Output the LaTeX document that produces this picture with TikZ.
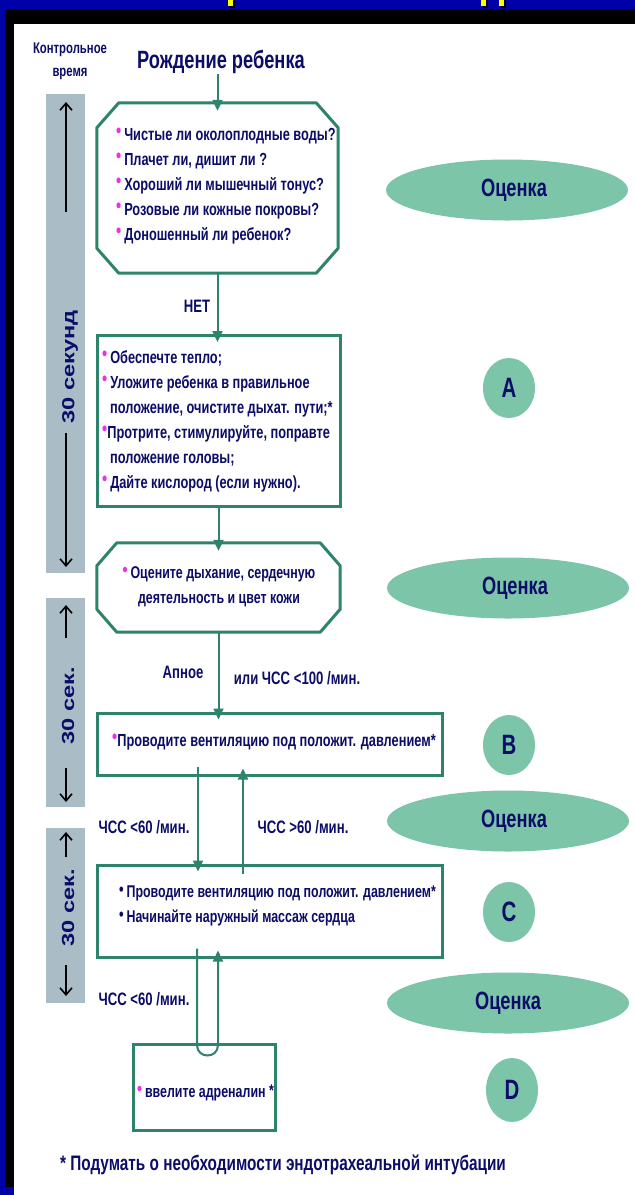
\documentclass[tikz,border=0pt]{standalone}
\usepackage{fontspec}
\setmainfont{Liberation Sans}[FakeStretch=0.73]
\newfontfamily\widefont{Liberation Sans}[FakeStretch=1.35]
\usetikzlibrary{arrows.meta,shapes.geometric,calc}
\definecolor{navy}{RGB}{12,12,105}
\definecolor{linecol}{RGB}{45,132,106}
\definecolor{ovalcol}{RGB}{124,197,168}
\definecolor{barcol}{RGB}{170,189,199}
\definecolor{bulcol}{RGB}{235,50,225}
\definecolor{frameblue}{RGB}{0,0,168}
\definecolor{ttlyellow}{RGB}{255,255,0}
\newcommand\tf{\fontsize{17.5}{25}\selectfont\bfseries}
\newcommand\tfs{\fontsize{17}{25}\selectfont\bfseries}
\newcommand\bl{\textcolor{bulcol}{\raisebox{0.25ex}{\scalebox{1.15}{•}}}}
\newcommand\bn{\textcolor{navy}{\raisebox{0.25ex}{\scalebox{1.05}{•}}}}
\tikzset{
  txt/.style={text=navy, font=\tf, inner sep=0pt},
  txts/.style={text=navy, font=\tfs, inner sep=0pt},
  lbl/.style={text=navy, font=\fontsize{18}{20}\selectfont\bfseries, inner sep=0pt},
  holder/.style={draw=none, inner sep=0pt, minimum width=#1},
  boxline/.style={draw=linecol, line width=3pt, line join=round},
  rectbox/.style={draw=linecol, line width=3pt, fill=white, inner sep=0pt},
  conn/.style={draw=linecol, line width=2pt, -{Triangle[width=10pt,length=11pt]}, shorten >=-8pt},
  oval/.style={ellipse, fill=ovalcol, inner sep=0pt, minimum width=242pt, minimum height=61pt, text=navy, font=\fontsize{25}{27}\selectfont\bfseries},
  letter/.style={ellipse, fill=ovalcol, inner sep=0pt, minimum width=52pt, minimum height=60pt, text=navy, font=\fontsize{28}{30}\selectfont\bfseries},
  bararrow/.style={draw=black, line width=1.6pt, -{Straight Barb[length=7pt,width=12pt,line width=1.6pt]}},
  bartext/.style={text=navy, font=\widefont\fontsize{17.5}{18}\selectfont\bfseries, inner sep=0pt},
}
\begin{document}
\begin{tikzpicture}[x=1pt,y=-1pt]
\useasboundingbox (0,0) rectangle (635,1195);
% frame
\fill[frameblue] (0,0) rectangle (635,1195);
\fill[black] (5,9) rectangle (635,1187);
\fill[white] (14,24) rectangle (635,1195);
% cut-off title glyph bits
\fill[black] (230,0) rectangle (235,8);
\fill[ttlyellow] (228,0) rectangle (233,6);
\fill[black] (483,0) rectangle (488,8);
\fill[ttlyellow] (481,0) rectangle (486,6);
\fill[black] (501,0) rectangle (506,8);
\fill[ttlyellow] (499,0) rectangle (504,6);

% time bars
\fill[barcol] (46,94) rectangle (85,573);
\fill[barcol] (46,598) rectangle (85,807);
\fill[barcol] (46,828) rectangle (85,1003);
\coordinate (a1s) at (66,212); \coordinate (a1e) at (66,102);
\coordinate (a2s) at (66,433); \coordinate (a2e) at (66,567);
\coordinate (a3s) at (66,638); \coordinate (a3e) at (66,605);
\coordinate (a4s) at (66,768); \coordinate (a4e) at (66,802);
\coordinate (a5s) at (66,857); \coordinate (a5e) at (66,832);
\coordinate (a6s) at (66,965); \coordinate (a6e) at (66,996);
\draw[bararrow] (a1s) -- (a1e);
\draw[bararrow] (a2s) -- (a2e);
\draw[bararrow] (a3s) -- (a3e);
\draw[bararrow] (a4s) -- (a4e);
\draw[bararrow] (a5s) -- (a5e);
\draw[bararrow] (a6s) -- (a6e);
\node[bartext, rotate=90] (s1) at (70,367) {30 секунд};
\node[bartext, rotate=90] (s2) at (68,706) {30 сек.};
\node[bartext, rotate=90] (s3) at (68,908) {30 сек.};

% headers
\node[txt, font=\fontsize{15.5}{23}\selectfont\bfseries, align=center] (ctl) at (70,61) {Контрольное\\время};
\node[txt, font=\fontsize{25}{27}\selectfont\bfseries] (title) at (221,62) {Рождение ребенка};

% box 1 (octagon)
\node[holder=241pt, minimum height=170pt] (b1) at (217.5,188) {};
\draw[boxline] ([xshift=22pt]b1.north west) -- ([xshift=-22pt]b1.north east) -- ([yshift=-25pt]b1.north east) -- ([yshift=25pt]b1.south east) -- ([xshift=-22pt]b1.south east) -- ([xshift=22pt]b1.south west) -- ([yshift=25pt]b1.south west) -- ([yshift=-25pt]b1.north west) -- cycle;
\node[txt, anchor=west, align=left] (t1) at (116,186) {\bl\,Чистые ли околоплодные воды?\\ \bl\,Плачет ли, дишит ли ?\\ \bl\,Хороший ли мышечный тонус?\\ \bl\,Розовые ли кожные покровы?\\ \bl\,Доношенный ли ребенок?};

% box 2
\node[rectbox, minimum width=243pt, minimum height=171pt] (b2) at (218.5,421) {};
\node[txt, anchor=west, align=left] (t2) at (102,421) {\bl\,Обеспечте тепло;\\ \bl\,Уложите ребенка в правильное\\ \hspace{8pt}положение, очистите дыхат. пути;*\\ \bl Протрите, стимулируйте, поправте\\ \hspace{8pt}положение головы;\\ \bl\,Дайте кислород (если нужно).};

% box 3 (octagon)
\node[holder=243pt, minimum height=89pt] (b3) at (218.5,587.5) {};
\draw[boxline] ([xshift=20pt]b3.north west) -- ([xshift=-20pt]b3.north east) -- ([yshift=-23pt]b3.north east) -- ([yshift=23pt]b3.south east) -- ([xshift=-20pt]b3.south east) -- ([xshift=20pt]b3.south west) -- ([yshift=23pt]b3.south west) -- ([yshift=-23pt]b3.north west) -- cycle;
\node[txts, align=center] (t3) at (219,587) {\bl\,Оцените дыхание, сердечную\\ деятельность и цвет кожи};

% box B
\node[rectbox, minimum width=345pt, minimum height=62pt] (bB) at (269.5,744) {};
\node[txt, anchor=west] (tB) at (112,742) {\bl Проводите вентиляцию под положит. давлением*};

% box C
\node[rectbox, minimum width=345pt, minimum height=92pt] (bC) at (269.5,911) {};
\node[txts, anchor=west, align=left] (tC) at (119,906) {\bn\,Проводите вентиляцию под положит. давлением*\\ \bn\,Начинайте наружный массаж сердца};

% box D
\node[rectbox, minimum width=142pt, minimum height=86pt] (bD) at (204,1087) {};
\node[txts, anchor=west] (tD) at (137,1093) {\bl\,ввелите адреналин \raisebox{0.2ex}{*}};

% connectors
\draw[conn] (title.south -| b1.north) -- (b1.north);
\draw[conn] (b1.south) -- (b1.south |- b2.north);
\draw[conn] (b2.south) -- (b2.south |- b3.north);
\draw[conn] (b3.south) -- (b3.south |- bB.north);
\draw[conn, shorten <=-10pt] (bB.south -| 198,0) -- (bC.north -| 198,0);
\draw[conn, shorten <=-10pt] (bC.north -| 243,0) -- (bB.south -| 243,0);
\coordinate (uL) at (197,1045);
\coordinate (uR) at (218,1045);
\draw[conn, shorten <=-10pt] (bC.south -| uL) -- (uL) .. controls (197,1059) and (218,1059) .. (uR) -- (bC.south -| uR);

% connector labels
\node[lbl] (lnet) at (197,306) {НЕТ};
\node[lbl] (lapn) at (183,672) {Апное};
\node[lbl] (l100) at (297,678) {или ЧСС <100 /мин.};
\node[lbl] (l60a) at (144,827) {ЧСС <60 /мин.};
\node[lbl] (l60b) at (303,827) {ЧСС >60 /мин.};
\node[lbl] (l60c) at (144,999) {ЧСС <60 /мин.};

% right column
\node[oval] (o1) at (507,190) {\hspace{14pt}Оценка};
\node[letter] (cA) at (509,388) {A};
\node[oval] (o2) at (508,588) {\hspace{14pt}Оценка};
\node[letter] (cB) at (509,745) {B};
\node[oval] (o3) at (508,821) {\hspace{12pt}Оценка};
\node[letter] (cC) at (509,912) {C};
\node[oval] (o4) at (508,1003) {Оценка};
\node[letter, minimum height=64pt] (cD) at (512,1090) {D};

% footnote
\node[txt, font=\fontsize{21}{24}\selectfont\bfseries] (foot) at (283,1165) {* Подумать о необходимости эндотрахеальной интубации};
\end{tikzpicture}
\end{document}
